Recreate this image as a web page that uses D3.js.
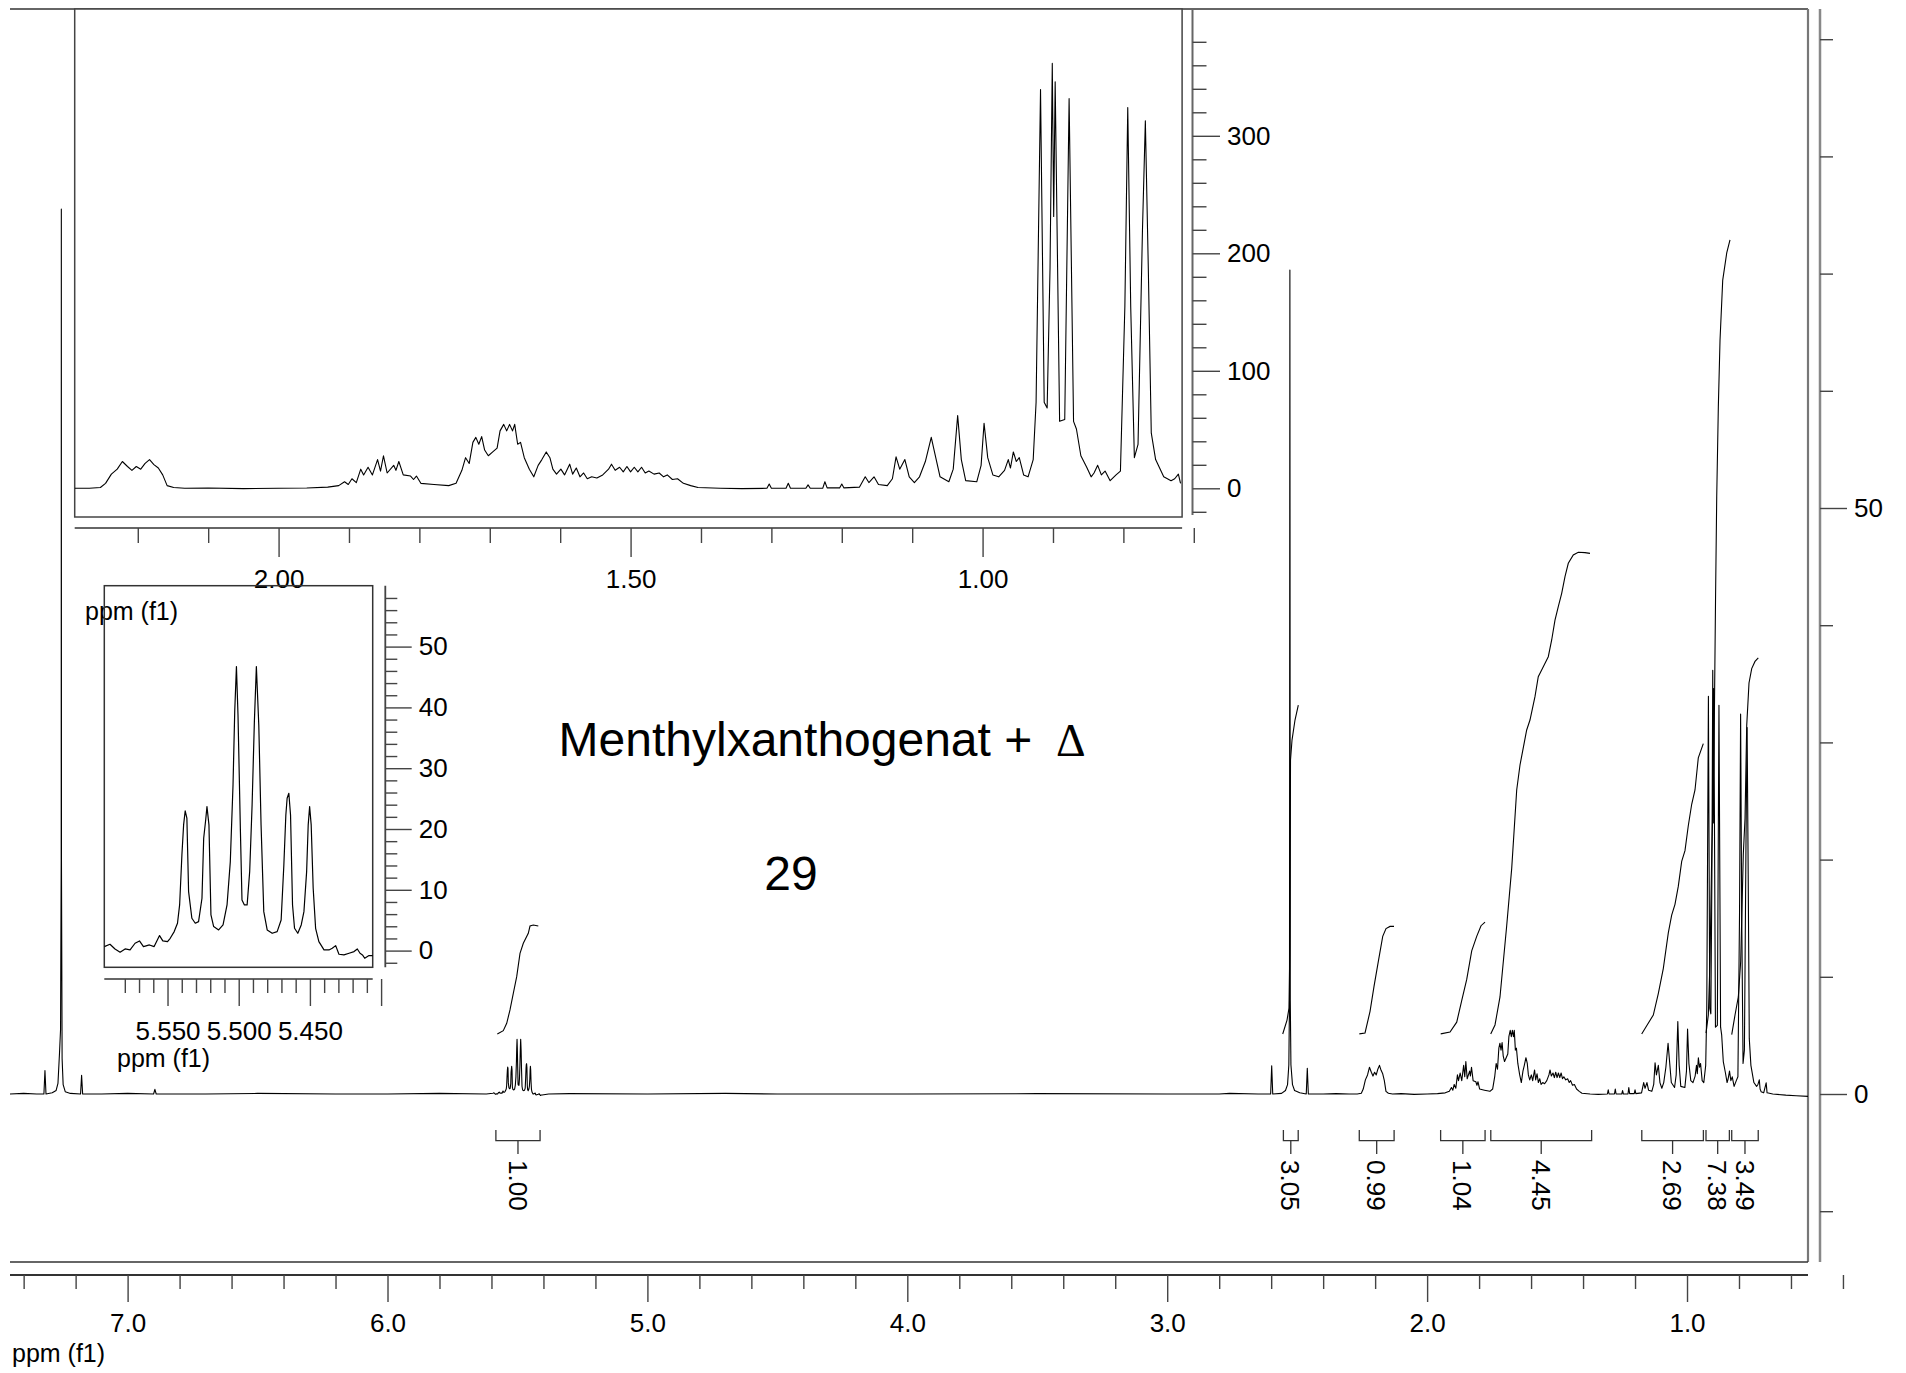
<!DOCTYPE html>
<html><head><meta charset="utf-8">
<script src="https://cdn.jsdelivr.net/npm/d3@7"></script>
<style>
html,body{margin:0;padding:0;background:#fff;}
svg{display:block;font-family:Arial,"Liberation Sans",sans-serif;}
</style></head><body>
<svg id="chart" width="1906" height="1373"></svg>
<script>
// ---------------- DATA (ppm, intensity) ----------------
// intensity unit = inset axis unit; main axis shows intensity / 10
const regionAromatic = [[7.4525,0],[7.40,0.5],[7.35,0],[7.322,0],[7.318,20],[7.314,0],[7.29,1],[7.275,3],[7.268,9],[7.262,35],[7.258,55],[7.2555,200],[7.255,755],[7.2545,200],[7.252,30],[7.248,8],[7.24,2],[7.22,0.5],[7.181,0],[7.177,16],[7.173,0],[7.10,0],[7.00,0.5],[6.90,0],[6.895,4],[6.89,0],[6.70,0],[6.50,0.5],[6.20,0],[6.00,0],[5.80,0.5],[5.62,0]];

const regionOlefinic = [[5.5944,0.66],[5.5904,1.04],[5.5869,0.27],[5.5833,-0.27],[5.5798,0.27],[5.5763,0.11],[5.5728,1.21],[5.5697,1.59],[5.5669,0.66],[5.5627,0.93],[5.5594,0.66],[5.5556,2.47],[5.5533,1.59],[5.55,1.48],[5.5481,2.03],[5.5453,3.13],[5.543,4.5],[5.5415,7.51],[5.5399,15.73],[5.5387,20.67],[5.5376,22.97],[5.5364,21.77],[5.5352,9.7],[5.5329,5.32],[5.5305,4.5],[5.5282,4.77],[5.5258,8.61],[5.5246,18.48],[5.5232,21.49],[5.5223,23.68],[5.5209,20.67],[5.5195,5.87],[5.5176,3.95],[5.5141,3.4],[5.511,4.22],[5.5082,7.51],[5.5059,14.64],[5.504,27.25],[5.5028,39.31],[5.5016,46.71],[5.5005,38.76],[5.4988,19.57],[5.4977,8.33],[5.496,7.51],[5.4941,7.51],[5.4923,12.99],[5.4906,23.96],[5.489,37.66],[5.4876,46.71],[5.4859,37.12],[5.4843,20.67],[5.4824,6.41],[5.48,3.4],[5.4765,2.85],[5.473,3.13],[5.4702,5.04],[5.4683,14.09],[5.4669,22.31],[5.466,25.05],[5.4648,25.88],[5.4636,22.31],[5.4622,7.51],[5.4608,3.67],[5.4585,2.85],[5.4561,4.22],[5.4542,6.41],[5.4523,12.99],[5.4512,20.67],[5.4502,23.68],[5.4491,20.67],[5.4477,10.25],[5.446,3.67],[5.4437,1.48],[5.4401,0.11],[5.4366,0.11],[5.4343,0.38],[5.4319,0.82],[5.4296,-0.6],[5.4261,-0.71],[5.4225,-0.44],[5.419,-0.16],[5.4167,0.27],[5.4148,-0.44],[5.4131,-0.71],[5.4115,-1.26],[5.4085,-0.82],[5.4054,-0.82]];

const regionMid = [[5.38,0],[5.30,0.3],[5.00,0],[4.70,0.5],[4.50,0],[4.00,0],[3.50,0.3],[3.00,0],[2.80,0],[2.76,0.5],[2.65,0],[2.602,0],[2.598,24],[2.594,0],[2.56,0.5],[2.545,3],[2.537,8],[2.532,25],[2.5295,80],[2.528,703],[2.5265,80],[2.524,25],[2.518,8],[2.51,3],[2.49,1],[2.465,0],[2.461,22],[2.457,0],[2.40,0],[2.35,0.3],[2.30,0]];

const regionAliphatic = [[2.2896,0],[2.2688,0],[2.2531,0.65],[2.2458,4.23],[2.2375,12.05],[2.2292,16.29],[2.2219,22.8],[2.2146,18.57],[2.2083,15.31],[2.2021,18.57],[2.1958,16.29],[2.1896,21.17],[2.1833,24.43],[2.1771,20.2],[2.1708,17.26],[2.1646,11.4],[2.1583,2.28],[2.149,0.65],[2.1333,0],[2.10,0.3],[2.05,-0.3],[2.00,0],[1.96,0.3],
[1.9302,0.98],[1.9146,2.28],[1.9063,5.54],[1.901,3.26],[1.8958,8.14],[1.8896,4.89],[1.8833,16.29],[1.8792,11.4],[1.8729,17.92],[1.8667,11.4],[1.8594,24.43],[1.8552,14.66],[1.851,27.69],[1.8458,13.03],[1.8365,19.54],[1.8333,15.31],[1.8292,22.8],[1.8229,11.4],[1.8125,10.42],[1.8083,7.49],[1.8042,10.42],[1.7979,4.23],[1.7792,3.26],[1.7583,2.28],[1.7479,4.23],
[1.7396,15.31],[1.7344,26.06],[1.7292,21.17],[1.724,39.09],[1.7198,43.32],[1.7156,37.46],[1.7115,43.97],[1.7073,32.57],[1.7021,27.69],[1.6958,30.94],[1.6896,34.2],[1.6854,48.86],[1.6802,54.4],[1.676,48.86],[1.6719,54.4],[1.6677,48.86],[1.6646,54.4],[1.6604,37.46],[1.6563,39.09],[1.651,26.06],[1.6438,16.29],[1.6375,9.77],[1.6313,19.54],[1.626,24.43],[1.6198,30.94],[1.6146,26.06],[1.6104,16.29],[1.6052,12.05],[1.599,16.29],[1.5938,11.4],[1.5865,20.52],[1.5823,12.05],[1.5771,17.26],[1.5719,9.77],[1.5667,13.03],[1.5615,8.14],[1.5552,9.77],[1.5479,8.79],[1.5396,11.4],[1.5313,16.29],[1.5271,20.52],[1.5219,15.31],[1.5156,17.92],[1.5104,14.01],[1.5052,18.57],[1.5,14.01],[1.4948,17.92],[1.4896,14.01],[1.4844,17.92],[1.4792,13.03],[1.474,14.66],[1.4667,12.05],[1.4594,13.03],[1.4531,9.77],[1.4479,11.4],[1.4406,7.49],[1.4333,8.14],[1.425,4.23],[1.4146,2.28],[1.4042,0.65],[1.3729,0],[1.3417,-0.3],
[1.3063,0],[1.3031,3.58],[1.3,0],[1.2792,0],[1.276,4.23],[1.2729,0],[1.251,0],[1.2479,2.93],[1.2448,0],[1.2271,0],[1.224,5.54],[1.2208,0.33],[1.2031,0.33],[1.2,3.58],[1.1969,0.33],[1.175,0.98],[1.1667,9.77],[1.1615,4.89],[1.1542,9.77],[1.1479,3.26],[1.1354,2.28],[1.1281,8.14],[1.1229,26.71],[1.1177,16.29],[1.1104,24.43],[1.1042,9.77],[1.0969,4.89],[1.0896,9.77],[1.0813,22.8],[1.0729,43.32],[1.0677,29.32],[1.0604,9.77],[1.0479,5.54],[1.0417,16.29],[1.0354,61.89],[1.0302,24.43],[1.024,6.51],[1.0083,5.54],[1.0021,19.54],[0.9979,55.37],[0.9927,26.06],[0.9854,11.4],[0.9771,9.77],[0.9688,15.31],[0.9635,24.43],[0.9604,17.26],[0.9563,30.94],[0.9521,22.8],[0.9479,26.06],[0.9417,11.4],[0.9354,9.77],[0.9281,24.43],[0.924,73.29],[0.9177,339.4],[0.9125,73.29],[0.9083,68.4],[0.9042,187.3],[0.901,361.6],[0.899,231.3],[0.8969,345.9],[0.8906,57],[0.8833,58.63],[0.8771,331.6],[0.8708,57],[0.8667,50.49],[0.8604,27.69],[0.8521,17.92],[0.8458,9.77],[0.8417,13.03],[0.8365,19.54],[0.8313,11.4],[0.826,14.66],[0.8188,6.51],[0.8104,11.4],[0.8042,14.66],[0.7979,154.7],[0.7938,324.1],[0.7896,154.7],[0.7844,26.06],[0.7792,37.46],[0.7729,219.9],[0.7688,312.7],[0.7646,187.3],[0.7604,47.23],[0.7542,24.43],[0.7427,9.77],[0.7323,6.51],[0.7271,8.14],[0.7219,12.05],[0.7188,4.23]];

const regionTail = [[0.715,2],[0.705,1],[0.6955,9.5],[0.692,1],[0.67,0],[0.62,-1],[0.58,-1.5],[0.5345,-2]];

// integral curves (ppm, value on main axis)
const integral1_00 = [[5.5775,5.12],[5.5545,5.4],[5.5414,6.03],[5.5287,7.17],[5.516,8.59],[5.5029,10.01],[5.4902,12.0],[5.4775,12.86],[5.4583,13.71],[5.4517,14.33],[5.439,14.42],[5.4198,14.33]];
const integral3_05 = [[2.5556,5.12],[2.539,6.31],[2.5313,7.34],[2.5285,12],[2.5275,16.55],[2.5256,28.5],[2.5198,30.2],[2.5083,31.91],[2.4956,33.19]];
const integral0_99 = [[2.2608,5.13],[2.2389,5.21],[2.2196,7.05],[2.2043,9.18],[2.1877,11.31],[2.1708,13.45],[2.1581,14.11],[2.1427,14.3],[2.1273,14.3]];
const integral1_04 = [[1.9477,5.13],[1.9119,5.28],[1.8861,6.13],[1.8669,7.96],[1.8476,9.78],[1.8284,12.22],[1.8092,13.45],[1.7926,14.36],[1.7772,14.67]];
const integral4_45 = [[1.7553,5.12],[1.7388,5.89],[1.7196,8.28],[1.6938,14.36],[1.6746,19.23],[1.6553,25.94],[1.6426,28.07],[1.6169,31.06],[1.6042,31.91],[1.585,33.9],[1.5723,35.61],[1.553,36.46],[1.5338,37.31],[1.5207,38.74],[1.508,40.44],[1.4953,41.58],[1.4822,42.72],[1.4695,44.14],[1.4568,45.28],[1.4376,45.99],[1.4184,46.22],[1.3926,46.19],[1.3734,46.13]];
const integral2_69 = [[1.1744,5.12],[1.1551,5.83],[1.1297,6.74],[1.1105,8.57],[1.0913,10.7],[1.072,13.75],[1.059,15.27],[1.0463,16.18],[1.0336,17.71],[1.0205,19.85],[1.0078,20.76],[0.9951,22.89],[0.982,24.72],[0.9693,25.94],[0.9566,28.68],[0.9373,29.9]];
const integral7_38 = [[0.9268,5.2],[0.918,6.74],[0.9115,11.35],[0.9049,20.48],[0.901,24.15],[0.896,29.61],[0.8941,33.62],[0.8903,42.15],[0.8857,50.96],[0.8795,58.64],[0.873,64.33],[0.8626,69.45],[0.8472,71.76],[0.8346,72.87]];
const integral3_49 = [[0.828,5.07],[0.8153,6.74],[0.8026,8.28],[0.7934,11.35],[0.7834,20.48],[0.7768,23.5],[0.7703,31.43],[0.7615,35.07],[0.7511,36.3],[0.7384,36.91],[0.7257,37.21]];

// integration brackets
const integralFrom   = [5.583, 2.553, 2.261, 1.948, 1.755, 1.174, 0.927, 0.828];
const integralTo     = [5.413, 2.496, 2.127, 1.777, 1.367, 0.937, 0.837, 0.726];
const integralLabels = ["1.00","3.05","0.99","1.04","4.45","2.69","7.38","3.49"];

// tick values
const mainMajorTicks = [7,6,5,4,3,2,1];
const mainMinorTicks = d3.range(74,3,-2).filter(v=>v%10!==0).map(v=>v/10);
const mainYMajor = [0,50];
const mainYMinor = d3.range(-10,91,10).filter(v=>v!==0&&v!==50);
const in1MajorTicks = [2.0,1.5,1.0];
const in1MinorTicks = d3.range(22,6,-1).filter(v=>v%5!==0).map(v=>v/10);
const in1YMajor = [0,100,200,300];
const in1YMinor = d3.range(-20,381,20).filter(v=>v%100!==0);
const in2MajorTicks = [5.55,5.50,5.45,5.40];
const in2MinorTicks = d3.range(558,540,-1).filter(v=>v%5!==0).map(v=>v/100);
const in2YMajor = [0,10,20,30,40,50];
const in2YMinor = d3.range(-2,59,2).filter(v=>v%10!==0);

const titleText = "Menthylxanthogenat +";
const titleSymbol = "\u0394";
const compoundNo = "29";
const axisTitle = "ppm (f1)";

// ---------------- DRAWING ----------------
const svg = d3.select('#chart');
const MAIN_DIV = 10;
const spectrum = [].concat(regionAromatic, regionOlefinic, regionMid, regionAliphatic, regionTail);

const mainX = d3.scaleLinear().domain([7.4525,0.5345]).range([10,1808]);
const mainY = d3.scaleLinear().domain([-10,90]).range([1211.2,39.2]);
const in1X = d3.scaleLinear().domain([2.2896,0.7166]).range([74.7,1182.1]);
const in1Y = d3.scaleLinear().domain([0,300]).range([488.3,135.8]);
const in2X = d3.scaleLinear().domain([5.5944,5.4059]).range([104.3,372.7]);
const in2Y = d3.scaleLinear().domain([0,50]).range([950.6,646.6]);

const FONT = 'Arial, "Liberation Sans", sans-serif';
const AX = '#444';

function styleAxis(g, fs){
  g.select('.domain').remove();
  g.attr('font-family', FONT).attr('font-size', fs||26).attr('color', AX);
  g.selectAll('.tick line').attr('stroke-width',1.4);
  g.selectAll('.tick text').attr('fill','#000');
}
function hline(x1,x2,y,c,w){svg.append('line').attr('x1',x1).attr('x2',x2).attr('y1',y).attr('y2',y).attr('stroke',c||AX).attr('stroke-width',w||1.5);}
function vline(x,y1,y2,c,w){svg.append('line').attr('x1',x).attr('x2',x).attr('y1',y1).attr('y2',y2).attr('stroke',c||AX).attr('stroke-width',w||1.5);}

// main frame
hline(10,1808,9,'#333',1.5);
vline(1808,9,1262,'#777',2.2);
hline(10,1808,1262,'#333',1.5);

// main x axis
hline(10,1808,1275,'#333',1.8);
svg.append('g').attr('transform','translate(0,1275)')
  .call(d3.axisBottom(mainX).tickValues(mainMinorTicks).tickSize(14).tickFormat(''))
  .call(g=>styleAxis(g));
svg.append('g').attr('transform','translate(0,1275)')
  .call(d3.axisBottom(mainX).tickValues(mainMajorTicks).tickSize(27).tickPadding(12).tickFormat(d3.format('.1f')))
  .call(g=>styleAxis(g));
svg.append('text').attr('x',12).attr('y',1362).attr('font-family',FONT).attr('font-size',25).text(axisTitle);

// main y axis (right)
vline(1820,9,1262,'#888',2.5);
svg.append('g').attr('transform','translate(1820,0)')
  .call(d3.axisRight(mainY).tickValues(mainYMinor).tickSize(13).tickFormat(''))
  .call(g=>styleAxis(g));
svg.append('g').attr('transform','translate(1820,0)')
  .call(d3.axisRight(mainY).tickValues(mainYMajor).tickSize(27).tickPadding(7).tickFormat(d3.format('d')))
  .call(g=>styleAxis(g));

// main spectrum
const mainLine = d3.line().x(d=>mainX(d[0])).y(d=>mainY(d[1]/MAIN_DIV));
svg.append('path').datum(spectrum).attr('d',mainLine).attr('fill','none').attr('stroke','#000').attr('stroke-width',1.1).attr('stroke-linejoin','round');

// integral curves
const intLine = d3.line().x(d=>mainX(d[0])).y(d=>mainY(d[1]));
[integral1_00,integral3_05,integral0_99,integral1_04,integral4_45,integral2_69,integral7_38,integral3_49].forEach(c=>{
  svg.append('path').datum(c).attr('d',intLine).attr('fill','none').attr('stroke','#000').attr('stroke-width',1.1);
});

// integration brackets
integralLabels.forEach((lab,i)=>{
  const x1 = mainX(integralFrom[i]), x2 = mainX(integralTo[i]), xm = (x1+x2)/2;
  svg.append('path').attr('d',`M${x1},1130V1140.7H${x2}V1130M${xm},1140.7V1154`).attr('fill','none').attr('stroke','#333').attr('stroke-width',1.3);
  svg.append('text').attr('transform',`translate(${xm},1160) rotate(90)`).attr('dy','0.36em')
    .attr('font-family',FONT).attr('font-size',26).text(lab);
});

// ---------- inset 1 ----------
svg.append('rect').attr('x',74.7).attr('y',9).attr('width',1107.4).attr('height',508).attr('fill','#fff').attr('stroke','#444').attr('stroke-width',1.5);
svg.append('clipPath').attr('id','c1').append('rect').attr('x',74.7).attr('y',9).attr('width',1107.4).attr('height',508);
const in1Data = spectrum.filter(d=>d[0]<=2.2896 && d[0]>=0.7166);
svg.append('path').datum(in1Data).attr('clip-path','url(#c1)')
  .attr('d',d3.line().x(d=>in1X(d[0])).y(d=>in1Y(d[1])))
  .attr('fill','none').attr('stroke','#000').attr('stroke-width',1.1).attr('stroke-linejoin','round');
hline(74.7,1182.1,528,'#333',1.6);
svg.append('g').attr('transform','translate(0,528)')
  .call(d3.axisBottom(in1X).tickValues(in1MinorTicks).tickSize(15).tickFormat(''))
  .call(g=>styleAxis(g));
svg.append('g').attr('transform','translate(0,528)')
  .call(d3.axisBottom(in1X).tickValues(in1MajorTicks).tickSize(29).tickPadding(13).tickFormat(d3.format('.2f')))
  .call(g=>styleAxis(g));
svg.append('text').attr('x',85).attr('y',620).attr('font-family',FONT).attr('font-size',25).text(axisTitle);
vline(1192.5,9,515,'#666',2);
svg.append('g').attr('transform','translate(1192.5,0)')
  .call(d3.axisRight(in1Y).tickValues(in1YMinor).tickSize(14).tickFormat(''))
  .call(g=>styleAxis(g));
svg.append('g').attr('transform','translate(1192.5,0)')
  .call(d3.axisRight(in1Y).tickValues(in1YMajor).tickSize(27.5).tickPadding(7).tickFormat(d3.format('d')))
  .call(g=>styleAxis(g));

// ---------- inset 2 ----------
svg.append('rect').attr('x',104.3).attr('y',585.7).attr('width',268.4).attr('height',381.6).attr('fill','none').attr('stroke','#333').attr('stroke-width',1.5);
svg.append('clipPath').attr('id','c2').append('rect').attr('x',104.3).attr('y',585.7).attr('width',268.4).attr('height',381.6);
const in2Data = spectrum.filter(d=>d[0]<=5.5944 && d[0]>=5.4054);
svg.append('path').datum(in2Data).attr('clip-path','url(#c2)')
  .attr('d',d3.line().x(d=>in2X(d[0])).y(d=>in2Y(d[1])))
  .attr('fill','none').attr('stroke','#000').attr('stroke-width',1.2).attr('stroke-linejoin','round');
hline(104.3,372.7,979,'#333',1.6);
svg.append('g').attr('transform','translate(0,979)')
  .call(d3.axisBottom(in2X).tickValues(in2MinorTicks).tickSize(14).tickFormat(''))
  .call(g=>styleAxis(g));
svg.append('g').attr('transform','translate(0,979)')
  .call(d3.axisBottom(in2X).tickValues(in2MajorTicks).tickSize(27).tickPadding(16).tickFormat(d=>Math.abs(d-5.40)<1e-9?'':d3.format('.3f')(d)))
  .call(g=>styleAxis(g));
svg.append('text').attr('x',117).attr('y',1067).attr('font-family',FONT).attr('font-size',25).text(axisTitle);
vline(385.3,585.7,967.3,'#444',1.8);
svg.append('g').attr('transform','translate(385.3,0)')
  .call(d3.axisRight(in2Y).tickValues(in2YMinor).tickSize(12).tickFormat(''))
  .call(g=>styleAxis(g));
svg.append('g').attr('transform','translate(385.3,0)')
  .call(d3.axisRight(in2Y).tickValues(in2YMajor).tickSize(26.4).tickPadding(7).tickFormat(d3.format('d')))
  .call(g=>styleAxis(g));

// ---------- annotation text ----------
const t = svg.append('text').attr('x',558.6).attr('y',756).attr('font-family',FONT).attr('font-size',48);
t.append('tspan').text(titleText);
t.append('tspan').attr('x',1056).attr('font-family','"Liberation Serif", "DejaVu Serif", serif').attr('font-size',46).text(titleSymbol);
svg.append('text').attr('x',791).attr('y',890).attr('text-anchor','middle').attr('font-family',FONT).attr('font-size',48).text(compoundNo);
</script>
</body></html>
